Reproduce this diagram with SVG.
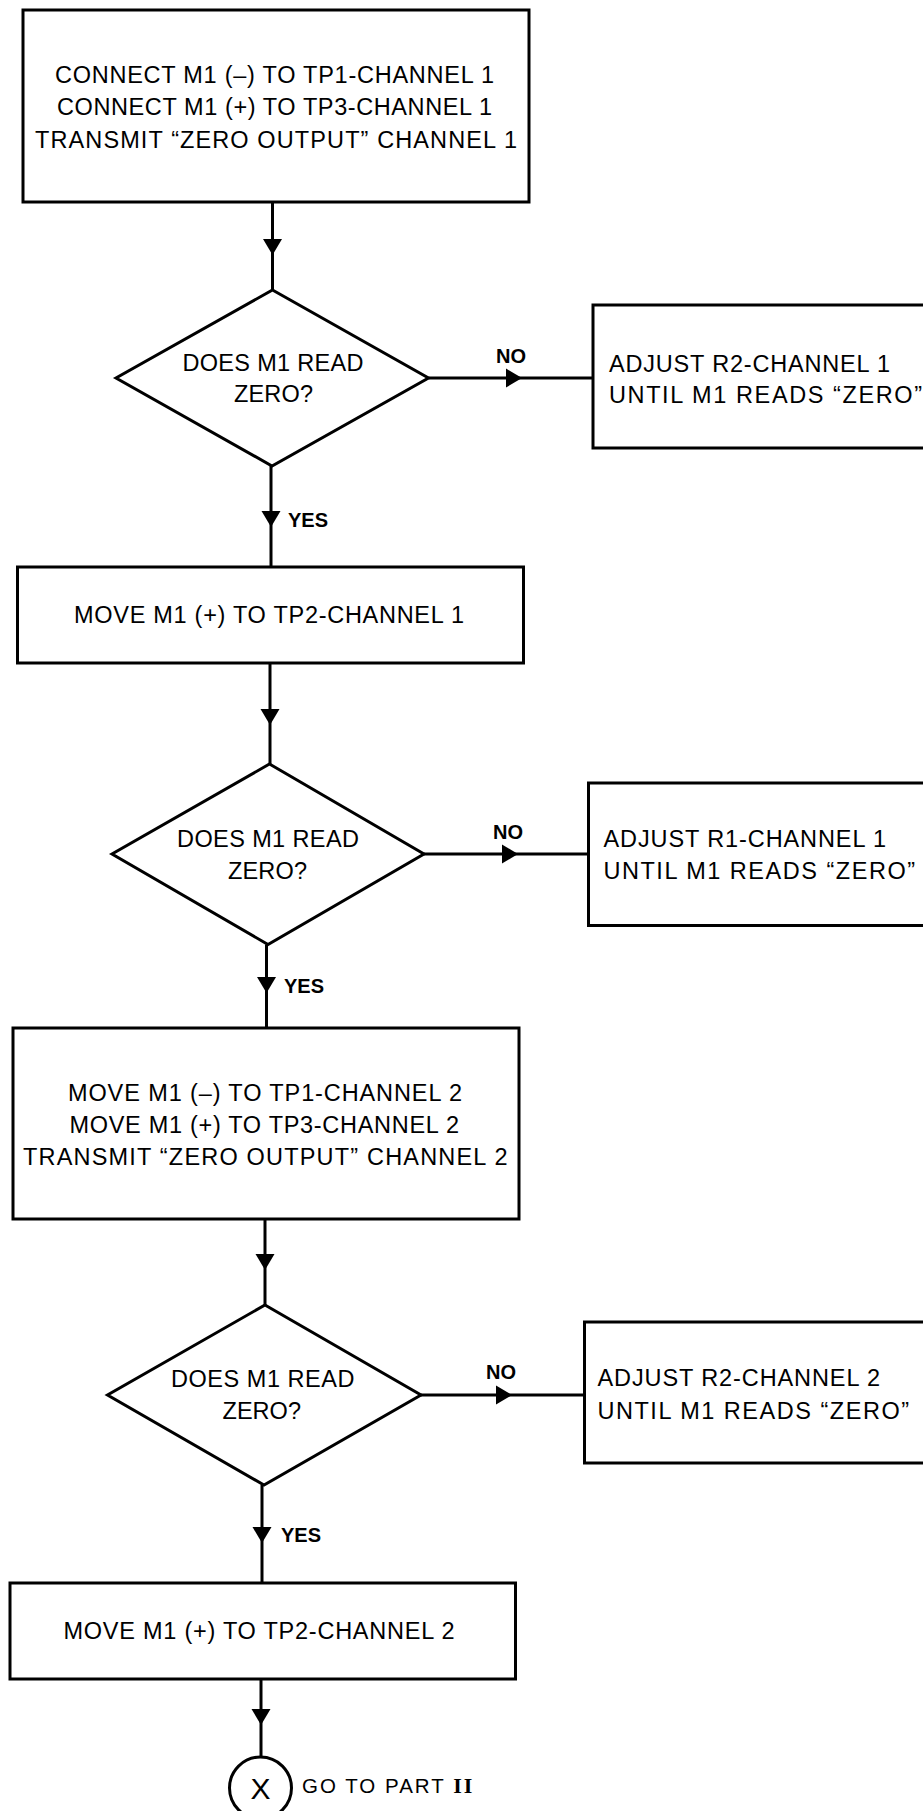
<svg xmlns="http://www.w3.org/2000/svg" width="923" height="1811" viewBox="0 0 923 1811">
<style>
.b{fill:#fff;stroke:#000;stroke-width:3}
.c{stroke:#000;stroke-width:3;fill:none}
.t{font-family:"Liberation Sans",Arial,Helvetica,sans-serif;font-size:23.5px;fill:#000}
.m{text-anchor:middle}
.l{font-family:"Liberation Sans",Arial,Helvetica,sans-serif;font-size:20px;font-weight:bold;fill:#000}
</style>
<defs>
<path id="ah" d="M0,0 L-16,-9.5 L-16,9.5 Z" fill="#000"/>
</defs>
<rect width="923" height="1811" fill="#fff"/>
<g id="connectors">
<line class="c" x1="272.5" y1="202" x2="272.5" y2="290"/>
<use href="#ah" transform="translate(272.5,255) rotate(90)"/>
<line class="c" x1="428.5" y1="378" x2="593" y2="378"/>
<use href="#ah" transform="translate(522,378)"/>
<text class="l" x="496" y="363">NO</text>
<line class="c" x1="271" y1="466" x2="271" y2="567"/>
<use href="#ah" transform="translate(271,527) rotate(90)"/>
<text class="l" x="288" y="527">YES</text>
<line class="c" x1="270" y1="663" x2="270" y2="764"/>
<use href="#ah" transform="translate(270,725) rotate(90)"/>
<line class="c" x1="424" y1="854" x2="588.5" y2="854"/>
<use href="#ah" transform="translate(518,854)"/>
<text class="l" x="493" y="839">NO</text>
<line class="c" x1="266.5" y1="944.5" x2="266.5" y2="1028"/>
<use href="#ah" transform="translate(266.5,993) rotate(90)"/>
<text class="l" x="284" y="993">YES</text>
<line class="c" x1="265" y1="1219" x2="265" y2="1305"/>
<use href="#ah" transform="translate(265,1270) rotate(90)"/>
<line class="c" x1="421" y1="1395" x2="584.5" y2="1395"/>
<use href="#ah" transform="translate(512,1395)"/>
<text class="l" x="486" y="1379">NO</text>
<line class="c" x1="262" y1="1485" x2="262" y2="1583"/>
<use href="#ah" transform="translate(262,1543) rotate(90)"/>
<text class="l" x="281" y="1542">YES</text>
<line class="c" x1="261" y1="1679" x2="261" y2="1757"/>
<use href="#ah" transform="translate(261,1725) rotate(90)"/>
</g>
<g id="box1">
<rect class="b" x="23" y="10" width="506" height="192"/>
<text class="t" x="55" y="83" textLength="439" lengthAdjust="spacing">CONNECT M1 (–) TO TP1-CHANNEL 1</text>
<text class="t" x="57" y="115" textLength="435" lengthAdjust="spacing">CONNECT M1 (+) TO TP3-CHANNEL 1</text>
<text class="t" x="35" y="148" textLength="482" lengthAdjust="spacing">TRANSMIT “ZERO OUTPUT” CHANNEL 1</text>
</g>
<g id="decision1">
<polygon class="b" points="272.5,290 428.5,378 272,466 116,378"/>
<text class="t" x="182.5" y="371" textLength="181" lengthAdjust="spacing">DOES M1 READ</text>
<text class="t" x="234" y="402" textLength="79" lengthAdjust="spacing">ZERO?</text>
</g>
<g id="adjust1">
<rect class="b" x="593" y="305" width="345" height="143"/>
<text class="t" x="609" y="372" textLength="281" lengthAdjust="spacing">ADJUST R2-CHANNEL 1</text>
<text class="t" x="609" y="403" textLength="313" lengthAdjust="spacing">UNTIL M1 READS “ZERO”</text>
</g>
<g id="box2">
<rect class="b" x="17.5" y="567" width="506" height="96"/>
<text class="t" x="74" y="623" textLength="390" lengthAdjust="spacing">MOVE M1 (+) TO TP2-CHANNEL 1</text>
</g>
<g id="decision2">
<polygon class="b" points="269.5,764 424,854 268,944.5 112,854"/>
<text class="t" x="177" y="846.5" textLength="182" lengthAdjust="spacing">DOES M1 READ</text>
<text class="t" x="228" y="878.5" textLength="79" lengthAdjust="spacing">ZERO?</text>
</g>
<g id="adjust2">
<rect class="b" x="588.5" y="783" width="350" height="142.5"/>
<text class="t" x="603.5" y="846.5" textLength="282.5" lengthAdjust="spacing">ADJUST R1-CHANNEL 1</text>
<text class="t" x="603.5" y="878.5" textLength="311.5" lengthAdjust="spacing">UNTIL M1 READS “ZERO”</text>
</g>
<g id="box3">
<rect class="b" x="13" y="1028" width="506" height="191"/>
<text class="t" x="68" y="1100.5" textLength="394" lengthAdjust="spacing">MOVE M1 (–) TO TP1-CHANNEL 2</text>
<text class="t" x="69.5" y="1133" textLength="389.5" lengthAdjust="spacing">MOVE M1 (+) TO TP3-CHANNEL 2</text>
<text class="t" x="23" y="1164.5" textLength="484.5" lengthAdjust="spacing">TRANSMIT “ZERO OUTPUT” CHANNEL 2</text>
</g>
<g id="decision3">
<polygon class="b" points="265,1305 421,1395 264,1485 107.5,1395"/>
<text class="t" x="171" y="1386.5" textLength="183.5" lengthAdjust="spacing">DOES M1 READ</text>
<text class="t" x="222.5" y="1418.5" textLength="78.5" lengthAdjust="spacing">ZERO?</text>
</g>
<g id="adjust3">
<rect class="b" x="584.5" y="1322" width="355" height="141"/>
<text class="t" x="597.5" y="1386" textLength="282.5" lengthAdjust="spacing">ADJUST R2-CHANNEL 2</text>
<text class="t" x="597.5" y="1418.5" textLength="311.5" lengthAdjust="spacing">UNTIL M1 READS “ZERO”</text>
</g>
<g id="box4">
<rect class="b" x="10" y="1583" width="505.5" height="96"/>
<text class="t" x="63.5" y="1639" textLength="391" lengthAdjust="spacing">MOVE M1 (+) TO TP2-CHANNEL 2</text>
</g>
<g id="connector-x">
<circle class="b" cx="260.5" cy="1788" r="31"/>
<text x="260.5" y="1799" text-anchor="middle" style="font-family:'Liberation Sans',Arial,sans-serif;font-size:30px">X</text>
<text x="302" y="1793" style="font-family:'Liberation Sans',Arial,sans-serif;font-size:20.5px;letter-spacing:2px">GO TO PART <tspan style="font-family:'Liberation Serif','Times New Roman',serif;font-weight:bold;font-size:22px">II</tspan></text>
</g>
</svg>
